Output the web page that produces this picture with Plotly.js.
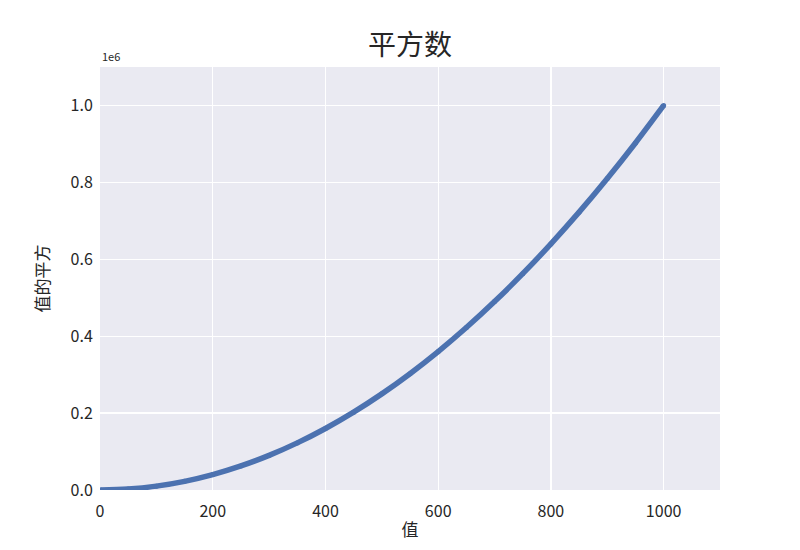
<!DOCTYPE html>
<html>
<head>
<meta charset="utf-8">
<script src="https://cdn.plot.ly/plotly-3.0.1.min.js"></script>
<style>body{margin:0;background:#fff;}#chart{width:800px;height:550px;}</style>
</head>
<body>
<div id="chart"></div>
<script>
const xValues = [1, 50, 100, 150, 200, 250, 300, 350, 400, 450, 500, 550, 600, 650, 700, 750, 800, 850, 900, 950, 1000];
const yValues = [1, 2500, 10000, 22500, 40000, 62500, 90000, 122500, 160000, 202500, 250000, 302500, 360000, 422500, 490000, 562500, 640000, 722500, 810000, 902500, 1000000];
const xTicks = [0, 200, 400, 600, 800, 1000];
const yTicks = [0, 200000, 400000, 600000, 800000, 1000000];
const yTickLabels = ["0.0", "0.2", "0.4", "0.6", "0.8", "1.0"];

const font = "'Noto Sans CJK SC', 'Noto Sans', sans-serif";
const trace = {
  x: xValues, y: yValues, type: 'scatter', mode: 'lines+markers',
  line: {color: '#4C72B0', width: 5.5, shape: 'spline'},
  marker: {color: '#4C72B0', size: 5},
  hoverinfo: 'skip'
};
const layout = {
  width: 800, height: 550,
  margin: {l: 100, r: 80, t: 67, b: 60},
  paper_bgcolor: '#ffffff', plot_bgcolor: '#EAEAF2',
  showlegend: false,
  font: {family: font, color: '#262626', size: 15},
  title: {text: '平方数', font: {family: font, size: 28, color: '#262626'}, x: 0.5125, xanchor: 'center', y: 0.918, yanchor: 'middle'},
  xaxis: {
    range: [0, 1100], tickvals: xTicks, ticks: 'outside', ticklen: 7, tickcolor: 'rgba(0,0,0,0)',
    showline: false, zeroline: false,
    gridcolor: '#ffffff', gridwidth: 1.2, tickfont: {size: 16, color: '#262626'},
    title: {text: '值', font: {size: 17, color: '#262626'}, standoff: 2}
  },
  yaxis: {
    range: [0, 1100000], tickvals: yTicks, ticktext: yTickLabels, ticks: 'outside', ticklen: 3, tickcolor: 'rgba(0,0,0,0)',
    showline: false, zeroline: false,
    gridcolor: '#ffffff', gridwidth: 1.2, tickfont: {size: 16, color: '#262626'},
    title: {text: '值的平方', font: {size: 17, color: '#262626'}, standoff: 16}
  },
  annotations: [{
    text: '1e6', xref: 'paper', yref: 'paper', x: 0, y: 1, xanchor: 'left', yanchor: 'bottom',
    showarrow: false, font: {size: 11, color: '#262626'}, yshift: 1
  }]
};
Plotly.newPlot('chart', [trace], layout, {displayModeBar: false, staticPlot: true});
</script>
</body>
</html>
